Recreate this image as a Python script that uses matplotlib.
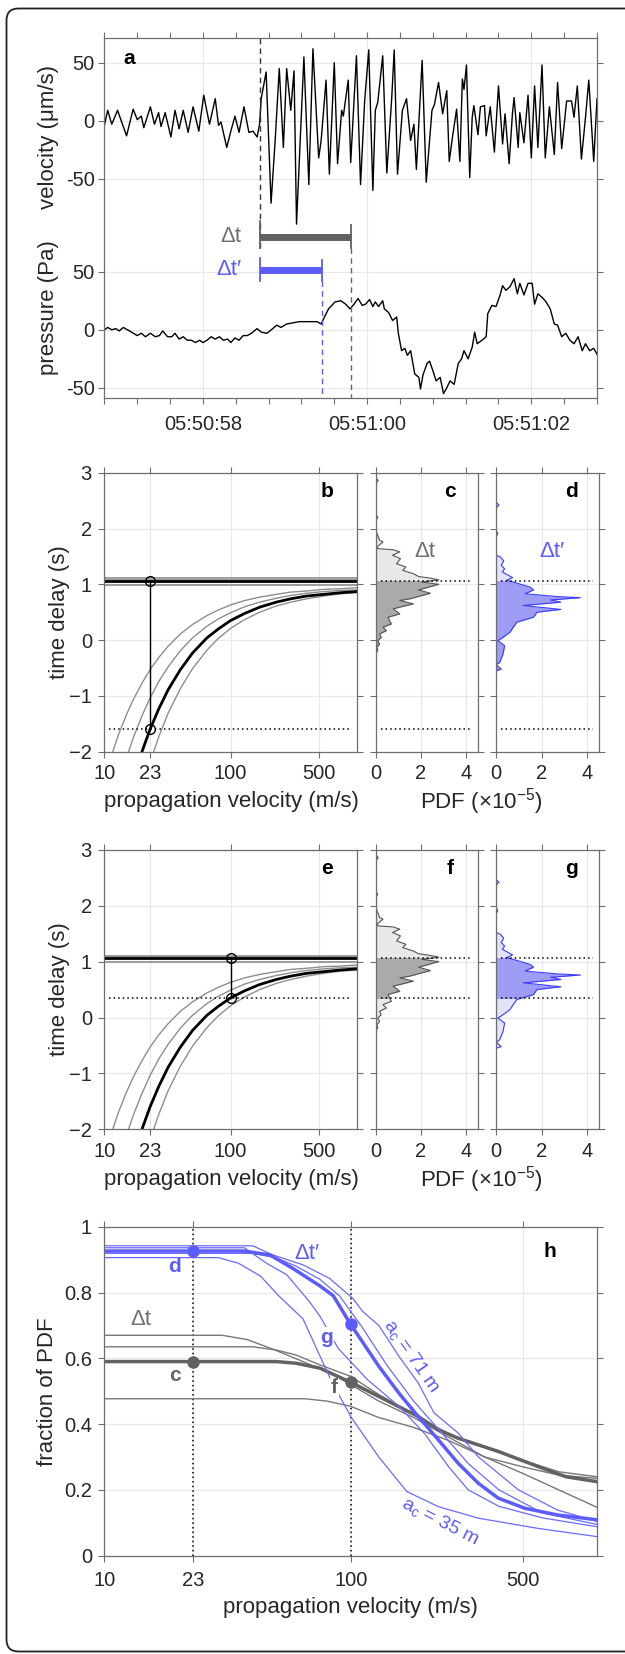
import numpy as np
import matplotlib
matplotlib.use('Agg')
import matplotlib.pyplot as plt
from matplotlib.patches import Rectangle, FancyBboxPatch
from matplotlib.ticker import NullLocator

plt.rcParams['font.family'] = ['Liberation Sans', 'DejaVu Sans']
plt.rcParams['mathtext.fontset'] = 'custom'
plt.rcParams['mathtext.rm'] = 'Liberation Sans'
plt.rcParams['mathtext.it'] = 'Liberation Sans:italic'

W, H = 625, 1654

# ---- panel a: traces (seconds after 05:50:00) ----
vel_t = [56.80, 56.84, 56.89, 56.96, 57.07, 57.15, 57.20, 57.25, 57.28, 57.36, 57.41, 57.46, 57.49,
         57.54, 57.61, 57.66, 57.71, 57.76, 57.82, 57.88, 57.95, 58.01, 58.08, 58.15, 58.19, 58.22,
         58.29, 58.34, 58.39, 58.44, 58.50, 58.56, 58.61, 58.66, 58.69, 58.71, 58.77, 58.83, 58.88,
         58.93, 58.98, 59.02, 59.07, 59.11, 59.14, 59.23, 59.29, 59.34, 59.41, 59.44, 59.50, 59.54,
         59.60, 59.64, 59.69, 59.71, 59.77, 59.80, 59.87, 59.92, 59.97, 60.02, 60.07, 60.10, 60.13,
         60.19, 60.24, 60.30, 60.33, 60.37, 60.43, 60.48, 60.53, 60.57, 60.60, 60.67, 60.72, 60.79,
         60.82, 60.87, 60.92, 60.97, 61.00, 61.04, 61.09, 61.13, 61.16, 61.18, 61.21, 61.25, 61.28,
         61.30, 61.35, 61.38, 61.43, 61.45, 61.50, 61.55, 61.60, 61.65, 61.68, 61.73, 61.77, 61.79,
         61.84, 61.86, 61.91, 61.96, 62.00, 62.04, 62.08, 62.13, 62.17, 62.22, 62.28, 62.32, 62.37,
         62.43, 62.49, 62.52, 62.56, 62.61, 62.66, 62.70, 62.76, 62.80]
vel_v = [-4, 9, -3, 9, -13, 10, 1, 4, -6, 12, -3, 7, -5,
         7, -14, 9, -7, 9, -10, 12, -9, 22, -3, 19, -4, -1,
         -23, -9, 4, -10, 12, -10, -9, -14, -3, 19, 42, -71, -17,
         45, -23, 45, 9, 43, -89, 55, -55, 62, -32, -17, 35, -46,
         50, -37, 9, 4, 35, -36, 56, -55, 17, 61, -60, 9, 16,
         56, -45, 20, 61, -46, 9, 19, -17, -3, -42, 52, -53, 9,
         14, 33, 6, 26, -35, -14, 10, -35, 36, 27, 48, -49, 3,
         13, -12, 12, 13, -13, 12, -27, 30, -20, 6, -37, 6, 20,
         -23, 7, -19, 22, -32, 30, -23, 48, -32, 12, -29, 33, -24,
         17, 17, 3, 30, -33, 3, 35, -35, 19]

pres_t = [56.80, 56.84, 56.89, 56.94, 56.98, 57.03, 57.08, 57.13, 57.20, 57.25, 57.30, 57.36, 57.42,
          57.47, 57.51, 57.57, 57.62, 57.66, 57.71, 57.76, 57.81, 57.86, 57.91, 57.96, 58.00, 58.05,
          58.10, 58.15, 58.20, 58.25, 58.30, 58.34, 58.39, 58.44, 58.49, 58.54, 58.59, 58.66, 58.71,
          58.78, 58.85, 58.90, 58.95, 59.02, 59.10, 59.17, 59.24, 59.31, 59.39, 59.44, 59.48, 59.53,
          59.61, 59.68, 59.74, 59.79, 59.84, 59.89, 59.94, 59.98, 60.03, 60.07, 60.10, 60.14, 60.19,
          60.21, 60.26, 60.31, 60.36, 60.38, 60.42, 60.46, 60.49, 60.53, 60.58, 60.63, 60.65, 60.68,
          60.73, 60.76, 60.80, 60.84, 60.89, 60.93, 60.97, 61.01, 61.06, 61.11, 61.15, 61.18, 61.23,
          61.28, 61.31, 61.34, 61.40, 61.45, 61.47, 61.52, 61.57, 61.62, 61.65, 61.69, 61.74, 61.79,
          61.83, 61.86, 61.91, 61.96, 62.01, 62.04, 62.08, 62.13, 62.18, 62.23, 62.28, 62.32, 62.37,
          62.42, 62.47, 62.52, 62.57, 62.62, 62.66, 62.71, 62.76, 62.80]
pres_p = [0, 2, 0, 1, -1, 2, 0, -2, -5, -3, -6, -3, -6,
          -5, -1, -6, -6, -3, -8, -6, -9, -9, -11, -9, -11, -9,
          -6, -8, -6, -9, -8, -11, -7, -9, -5, -5, -3, 1, -2,
          -3, 1, 4, 2, 5, 6, 7, 7, 7, 7, 5, 11, 18,
          24, 25, 22, 18, 22, 27, 21, 22, 26, 20, 24, 20, 25,
          18, 15, 8, 11, -3, -18, -16, -22, -18, -38, -41, -51, -39,
          -29, -27, -35, -44, -41, -55, -50, -44, -47, -29, -25, -18, -25,
          -15, -2, -12, -9, -6, 14, 21, 20, 30, 38, 34, 37, 44,
          31, 40, 30, 40, 40, 22, 31, 28, 24, 18, 5, 4, -6,
          -3, -9, -12, -6, -18, -12, -18, -16, -21]

time_ticks = [58, 60, 62]
time_labels = ['05:50:58', '05:51:00', '05:51:02']
onset_t = 58.69          # seismic onset
arrival_t = 59.80        # pressure arrival (dt)
arrival_tp = 59.45       # pressure arrival (dt')

# ---- panels b, e: model time delay vs propagation velocity ----
model_v = [10, 11, 12, 13, 15, 17, 20, 23, 27, 32, 40, 50, 65, 80, 100, 130, 170, 230, 300, 400, 550, 750, 1000]
delay_gray = [
    [-2.48, -2.17, -1.91, -1.68, -1.33, -1.06, -0.76, -0.53, -0.31, -0.11, 0.11, 0.28, 0.44, 0.54,
     0.63, 0.71, 0.77, 0.82, 0.86, 0.88, 0.91, 0.92, 0.94],
    [-3.62, -3.20, -2.86, -2.57, -2.10, -1.74, -1.34, -1.04, -0.74, -0.48, -0.19, 0.04, 0.25, 0.38,
     0.49, 0.60, 0.68, 0.75, 0.80, 0.84, 0.87, 0.89, 0.90],
    [-6.23, -5.58, -5.04, -4.58, -3.85, -3.29, -2.66, -2.19, -1.73, -1.31, -0.87, -0.51, -0.18, 0.03,
     0.21, 0.37, 0.50, 0.61, 0.68, 0.74, 0.79, 0.83, 0.85],
]
delay_best = [-4.89, -4.36, -3.92, -3.55, -2.95, -2.49, -1.98, -1.60, -1.23, -0.89, -0.53, -0.23, 0.04,
              0.20, 0.35, 0.48, 0.59, 0.68, 0.74, 0.79, 0.82, 0.85, 0.87]
obs_delay = 1.06
obs_band = [1.105, 1.085, 0.985]
pick_v = [23, 100]
pick_t = [-1.60, 0.35]
vel_ticks = [10, 23, 100, 500]
delay_ticks = [-2, -1, 0, 1, 2, 3]

# ---- panels c, d, f, g: PDF of time delay (x 1e-5) ----
pdf_dt_t = [2.92, 2.86, 2.80, 2.26, 2.20, 2.14, 1.97, 1.88, 1.79, 1.76, 1.68, 1.64, 1.62, 1.58, 1.52,
            1.46, 1.37, 1.31, 1.25, 1.19, 1.14, 1.11, 1.08, 1.04, 1.00, 0.90, 0.84, 0.74, 0.71, 0.65,
            0.59, 0.56, 0.47, 0.41, 0.29, 0.23, 0.17, 0.11, 0.05, -0.01, -0.07, -0.13, -0.18, -0.25]
pdf_dt = [0, 0.12, 0, 0, 0.10, 0, 0, 0.10, 0.18, 0.33, 0.10, 0.06, 0.78, 1.07, 0.75,
          1.10, 0.93, 1.34, 1.20, 1.67, 1.90, 2.42, 2.79, 2.04, 2.79, 1.90, 2.42, 1.52, 1.07, 1.67,
          1.07, 0.78, 1.07, 0.55, 0.70, 0.33, 0.48, 0.18, 0.25, 0.10, 0.18, 0.06, 0.10, 0]
pdf_dtp_t = [2.47, 2.42, 2.37, 1.96, 1.91, 1.86, 1.52, 1.49, 1.42, 1.34, 1.28, 1.22, 1.12, 1.07, 1.04,
             0.95, 0.90, 0.83, 0.78, 0.76, 0.72, 0.68, 0.62, 0.55, 0.50, 0.41, 0.32, 0.23, 0.14, 0.05,
             -0.01, -0.10, -0.25, -0.40, -0.44, -0.52, -0.55]
pdf_dtp = [0, 0.12, 0, 0, 0.07, 0, 0, 0.18, 0.33, 0.22, 0.37, 0.27, 0.72, 0.45, 0.75,
           1.49, 1.64, 1.27, 2.69, 3.70, 2.39, 2.84, 1.19, 2.84, 1.79, 1.64, 0.90, 0.75, 0.60, 0.30,
           0.07, 0.37, 0.30, 0.15, 0, 0.22, 0]
pdf_ticks = [0, 2, 4]

# ---- panel h: fraction of PDF between the picks ----
frac_gray_v = [
    [10, 30, 38, 49, 64, 83, 100, 130, 180, 250, 350, 500, 700, 1000],
    [10, 40, 50, 60, 75, 100, 130, 180, 250, 350, 500, 700, 1000],
    [10, 65, 80, 100, 130, 180, 250, 350, 500, 700, 1000],
]
frac_gray = [
    [0.67, 0.67, 0.657, 0.626, 0.59, 0.555, 0.52, 0.47, 0.42, 0.36, 0.30, 0.27, 0.245, 0.235],
    [0.635, 0.635, 0.625, 0.61, 0.58, 0.545, 0.49, 0.43, 0.37, 0.33, 0.29, 0.255, 0.24],
    [0.477, 0.477, 0.47, 0.454, 0.42, 0.39, 0.35, 0.30, 0.25, 0.20, 0.147],
]
frac_gray_best_v = [10, 50, 60, 75, 100, 130, 188, 227, 273, 397, 576, 748, 1000]
frac_gray_best = [0.59, 0.59, 0.585, 0.57, 0.527, 0.484, 0.423, 0.383, 0.357, 0.317, 0.271, 0.24, 0.225]

frac_blue_v = [
    [10, 40, 48, 64, 82, 102, 112, 130, 157, 188, 218, 273, 330, 480, 690, 1000],
    [10, 37, 45.5, 55, 68, 75, 89, 117, 157, 200, 250, 300, 400, 600, 1000],
    [10, 29, 35, 43, 51, 64, 83, 100, 130, 169, 227, 330, 576, 1000],
    [10, 40, 50, 60, 75, 90, 110, 140, 180, 230, 300, 400, 600, 1000],
]
frac_blue = [
    [0.942, 0.942, 0.915, 0.884, 0.843, 0.782, 0.742, 0.70, 0.606, 0.525, 0.434, 0.373, 0.30, 0.20, 0.139, 0.104],
    [0.936, 0.936, 0.889, 0.854, 0.772, 0.728, 0.63, 0.535, 0.454, 0.37, 0.27, 0.20, 0.15, 0.115, 0.088],
    [0.906, 0.906, 0.889, 0.85, 0.79, 0.72, 0.535, 0.423, 0.30, 0.195, 0.149, 0.114, 0.083, 0.058],
    [0.919, 0.919, 0.905, 0.88, 0.84, 0.79, 0.70, 0.58, 0.47, 0.38, 0.28, 0.20, 0.13, 0.095],
]
frac_blue_best_v = [10, 37, 47, 58, 75, 85, 100, 130, 157, 188, 227, 273, 330, 397, 510, 690, 1000]
frac_blue_best = [0.926, 0.926, 0.914, 0.874, 0.82, 0.79, 0.703, 0.576, 0.494, 0.423, 0.352, 0.281, 0.22,
                  0.175, 0.144, 0.124, 0.109]
frac_pick_gray = [0.59, 0.527]
frac_pick_blue = [0.926, 0.703]
frac_ticks = [0, 0.2, 0.4, 0.6, 0.8, 1]
frac_labels = ['0', '0.2', '0.4', '0.6', '0.8', '1']

AX_COLOR = '#6e6e6e'
TXT = '#262626'
GRID = '#e8e8e8'
GRAY = '#666666'
LGRAY = '#8e8e8e'
BLUE = '#5c5cfa'
DOT = (0, (1, 2))


def px_axes(fig, left, top, right, bottom):
    return fig.add_axes([left / W, 1 - bottom / H, (right - left) / W, (bottom - top) / H])


def fig_text(fig, x, y, s, **kw):
    kw.setdefault('ha', 'center')
    kw.setdefault('va', 'center')
    kw.setdefault('color', TXT)
    return fig.text(x / W, 1 - y / H, s, **kw)


def style_axes(ax, pad=5):
    for sp in ax.spines.values():
        sp.set_color(AX_COLOR)
        sp.set_linewidth(0.9)
    ax.tick_params(which='both', direction='out', top=True, right=True, color=AX_COLOR,
                   labelcolor=TXT, labelsize=14.5, width=0.8, pad=pad)
    ax.tick_params(which='major', length=4)
    ax.tick_params(which='minor', length=4)
    ax.grid(True, which='major', color=GRID, lw=0.9)
    ax.set_axisbelow(True)


def log_velocity_axis(ax):
    ax.set_xscale('log')
    ax.set_xlim(10, 1000)
    ax.set_xticks(vel_ticks)
    ax.set_xticklabels([str(v) for v in vel_ticks])
    ax.xaxis.set_minor_locator(NullLocator())


def panel_a(fig):
    ax = px_axes(fig, 104.4, 38.3, 597.0, 398.3)
    style_axes(ax, pad=3)
    off = 180
    ax.plot(vel_t, np.array(vel_v) + off, color='k', lw=1)
    ax.plot(pres_t, pres_p, color='k', lw=1)
    ax.set_xlim(56.8, 62.8)
    ax.set_ylim(-59, 251)
    ax.set_xticks(time_ticks)
    ax.set_xticklabels(time_labels)
    ax.set_xticks(np.arange(56.8, 62.81, 0.4), minor=True)
    ax.set_yticks([-50, 0, 50, off - 50, off, off + 50])
    ax.set_yticklabels(['-50', '0', '50'] * 2)
    ax.tick_params(axis='x', pad=8)

    # onset / arrival markers
    ax.plot([onset_t, onset_t], [70, 251], color='#333333', lw=1, dashes=(4, 3))
    ax.plot([arrival_t, arrival_t], [70, -59], color=GRAY, lw=1, dashes=(4, 3))
    ax.plot([arrival_tp, arrival_tp], [42, -59], color=BLUE, lw=1, dashes=(4, 3))
    ax.plot([onset_t, arrival_t], [80, 80], color='#606060', lw=5, solid_capstyle='butt')
    ax.plot([onset_t, onset_t], [70, 94], color='#606060', lw=1.3)
    ax.plot([arrival_t, arrival_t], [70, 90], color='#606060', lw=1.3)
    ax.plot([onset_t, arrival_tp], [51.5, 51.5], color=BLUE, lw=5, solid_capstyle='butt')
    ax.plot([onset_t, onset_t], [42, 62], color=BLUE, lw=1.3)
    ax.plot([arrival_tp, arrival_tp], [42, 60], color=BLUE, lw=1.3)
    ax.text(58.47, 80, 'Δt', ha='right', va='center', color='#707070', fontsize=16)
    ax.text(58.47, 51.5, 'Δt′', ha='right', va='center', color=BLUE, fontsize=16)

    fig_text(fig, 128.7, 59, 'a', fontsize=15, fontweight='bold', color='k')
    fig_text(fig, 48.8, 137, 'velocity (μm/s)', rotation=90, fontsize=16)
    fig_text(fig, 48.8, 308, 'pressure (Pa)', rotation=90, fontsize=16)


def delay_panel(ax, k):
    style_axes(ax)
    log_velocity_axis(ax)
    ax.set_ylim(-2, 3)
    ax.set_yticks(delay_ticks)
    for y in obs_band:
        ax.axhline(y, color=LGRAY, lw=1.2)
    ax.axhline(obs_delay, color='k', lw=2)
    for curve in delay_gray:
        ax.plot(model_v, curve, color=LGRAY, lw=1)
    ax.plot(model_v, delay_best, color='k', lw=2)
    ax.axhline(pick_t[k], xmin=0.02, xmax=0.98, color='k', ls=DOT, lw=1.1)
    ax.plot([pick_v[k], pick_v[k]], [obs_delay, pick_t[k]], color='k', lw=1,
            marker='o', mfc='none', mec='k', ms=7, mew=1)


def hist_panel(ax, t, pdf, lo, light, dark, edge):
    style_axes(ax)
    ax.fill_betweenx(t, 0, pdf, color=light, lw=0)
    band = ax.fill_betweenx(t, 0, pdf, color=dark, lw=0)
    band.set_clip_path(Rectangle((0, lo), 10, obs_delay - lo, transform=ax.transData))
    ax.plot(pdf, t, color=edge, lw=0.8)
    ax.plot([0, 0], [min(t), max(t)], color=edge, lw=0.8)
    for y in (lo, obs_delay):
        ax.axhline(y, xmin=0.05, xmax=0.95, color='k', ls=DOT, lw=1.1)
    ax.set_xlim(0, 4.5)
    ax.set_ylim(-2, 3)
    ax.set_xticks(pdf_ticks)
    ax.set_yticks(delay_ticks)
    ax.set_yticklabels([])


def delay_row(fig, top, bottom, k, letters, label_y):
    ax1 = px_axes(fig, 104.4, top, 356.7, bottom)
    delay_panel(ax1, k)
    ax2 = px_axes(fig, 375.5, top, 477.5, bottom)
    hist_panel(ax2, pdf_dt_t, pdf_dt, pick_t[k], '#e8e8e8', '#aaaaaa', '#555555')
    ax3 = px_axes(fig, 496.2, top, 598.6, bottom)
    hist_panel(ax3, pdf_dtp_t, pdf_dtp, pick_t[k], '#e2e2fb', '#9d9df6', '#3c3cff')

    ly = top + 19
    fig_text(fig, 327, ly, letters[0], fontsize=15, fontweight='bold', color='k')
    fig_text(fig, 450, ly, letters[1], fontsize=15, fontweight='bold', color='k')
    fig_text(fig, 571, ly, letters[2], fontsize=15, fontweight='bold', color='k')
    if k == 0:
        fig_text(fig, 424.5, top + 79, 'Δt', fontsize=16, color='#707070')
        fig_text(fig, 552, top + 79, 'Δt′', fontsize=16, color=BLUE)
    fig_text(fig, 59.8, (top + bottom) / 2, 'time delay (s)', rotation=90, fontsize=16)
    fig_text(fig, 231, label_y, 'propagation velocity (m/s)', fontsize=16)
    fig_text(fig, 481, label_y, r'PDF ($\times$10$^{\mathregular{-5}}$)', fontsize=16)


def panel_h(fig):
    ax = px_axes(fig, 104.4, 1226.7, 597.0, 1555.7)
    style_axes(ax)
    log_velocity_axis(ax)
    ax.tick_params(axis='x', pad=7)
    ax.set_ylim(0, 1)
    ax.set_yticks(frac_ticks)
    ax.set_yticklabels(frac_labels)
    for v in pick_v:
        ax.axvline(v, color='k', ls=DOT, lw=1.1)

    for vv, ff in zip(frac_gray_v, frac_gray):
        ax.plot(vv, ff, color='#777777', lw=1)
    ax.plot(frac_gray_best_v, frac_gray_best, color='#626262', lw=2.5)
    for vv, ff in zip(frac_blue_v, frac_blue):
        ax.plot(vv, ff, color='#6a6aff', lw=0.9)
    ax.plot(frac_blue_best_v, frac_blue_best, color=BLUE, lw=2.5)
    ax.plot(pick_v, frac_pick_gray, 'o', color='#626262', ms=8, zorder=5)
    ax.plot(pick_v, frac_pick_blue, 'o', color=BLUE, ms=8, zorder=5)

    wb = dict(facecolor='white', edgecolor='none', pad=0.5)
    ax.text(19.3, 0.879, 'd', color=BLUE, fontsize=15, fontweight='bold', ha='center', va='center')
    ax.text(19.3, 0.547, 'c', color='#626262', fontsize=15, fontweight='bold', ha='center', va='center')
    ax.text(80, 0.663, 'g', color=BLUE, fontsize=15, fontweight='bold', ha='center', va='center',
            bbox=wb, zorder=4)
    ax.text(86, 0.51, 'f', color='#626262', fontsize=15, fontweight='bold', ha='center', va='center',
            bbox=wb, zorder=4)
    ax.text(14.1, 0.717, 'Δt', color='#707070', fontsize=16, ha='center', va='center')
    ax.text(66.4, 0.918, 'Δt′', color=BLUE, fontsize=16, ha='center', va='center')
    ax.text(641, 0.924, 'h', color='k', fontsize=15, fontweight='bold', ha='center', va='center')
    ax.text(176, 0.608, r'$\mathregular{a_c}$ = 71 m', color=BLUE, fontsize=14, rotation=-55,
            rotation_mode='anchor', ha='center', va='center')
    ax.text(230, 0.105, r'$\mathregular{a_c}$ = 35 m', color=BLUE, fontsize=14, rotation=-27,
            rotation_mode='anchor', ha='center', va='center')

    fig_text(fig, 47.8, 1391.7, 'fraction of PDF', rotation=90, fontsize=16)
    fig_text(fig, 350.7, 1608, 'propagation velocity (m/s)', fontsize=16)


def main():
    fig = plt.figure(figsize=(W / 100, H / 100), dpi=100)

    # rounded frame round the whole figure
    bg = fig.add_axes([0, 0, 1, 1])
    bg.set_xlim(0, W)
    bg.set_ylim(H, 0)
    bg.axis('off')
    bg.add_patch(FancyBboxPatch((6.5, 8.5), 700, 1643, boxstyle='round,pad=0,rounding_size=12',
                                fill=False, ec='#222222', lw=1.3))

    panel_a(fig)
    delay_row(fig, 472.7, 751.7, 0, 'bcd', 801.7)
    delay_row(fig, 849.8, 1129.3, 1, 'efg', 1180)
    panel_h(fig)

    fig.savefig('out.png', dpi=100)


if __name__ == '__main__':
    main()
